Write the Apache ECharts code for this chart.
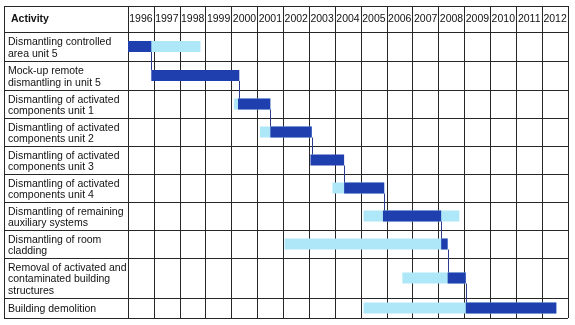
<!DOCTYPE html>
<html>
<head>
<meta charset="utf-8">
<script src="https://cdn.jsdelivr.net/npm/echarts@6/dist/echarts.min.js"></script>
<style>
html,body{margin:0;padding:0;background:#fff;}
#chart{width:575px;height:325px;}
</style>
</head>
<body>
<div id="chart"></div>
<script>
// ---- data ----
const headerTitle = 'Activity';
const activities = [
  'Dismantling controlled\narea unit 5',
  'Mock-up remote\ndismantling in unit 5',
  'Dismantling of activated\ncomponents unit 1',
  'Dismantling of activated\ncomponents unit 2',
  'Dismantling of activated\ncomponents unit 3',
  'Dismantling of activated\ncomponents unit 4',
  'Dismantling of remaining\nauxiliary systems',
  'Dismantling of room\ncladding',
  'Removal of activated and\ncontaminated building\nstructures',
  'Building demolition'
];
const years = ['1996','1997','1998','1999','2000','2001','2002','2003','2004','2005','2006','2007','2008','2009','2010','2011','2012'];
// planned (light) ranges, null = none
const planStart = [1996.0, null, 2000.1, 2001.1, null, 2003.9, 2005.1, 2002.05, 2006.6, 2005.1];
const planEnd   = [1998.8, null, 2001.5, 2003.1, null, 2005.9, 2008.8, 2008.35, 2009.05, 2012.55];
// actual (dark) ranges
const actualStart = [1996.0, 1996.9, 2000.25, 2001.5, 2003.05, 2004.35, 2005.85, 2008.1, 2008.35, 2009.05];
const actualEnd   = [1996.9, 2000.3, 2001.5, 2003.1, 2004.35, 2005.9, 2008.1, 2008.35, 2009.05, 2012.55];

// ---- layout ----
const LABEL_COL = 124;   // width of activity column (px)
const HEADER_H = 26;     // header row height (px)
const rowHeights = [29, 29, 28, 28, 28, 28, 28, 28, 40, 20];
const BAR_H = 11;
const LINE = '#262626';
const FONT = '"Liberation Sans", Arial, sans-serif';
const cum = [0];
rowHeights.forEach(h => cum.push(cum[cum.length - 1] + h));
const totalH = cum[cum.length - 1];
const yearMin = +years[0], yearMax = +years[years.length - 1] + 1;

const chart = echarts.init(document.getElementById('chart'), null, {renderer: 'canvas'});

function rowCenter(i) { return (cum[i] + cum[i + 1]) / 2; }

function renderTable(params, api) {
  const i = api.value(0);
  const cs = params.coordSys;
  const left = cs.x - LABEL_COL, right = cs.x + cs.width;
  const pTop = api.coord([yearMin, cum[i]]);
  const pBot = api.coord([yearMin, cum[i + 1]]);
  const children = [];
  const ls = {stroke: LINE, lineWidth: 1};
  children.push({type: 'line', shape: {x1: left, y1: Math.round(pBot[1]) + 0.5, x2: right, y2: Math.round(pBot[1]) + 0.5}, style: ls});
  children.push({type: 'text', x: left + 4, y: (pTop[1] + pBot[1]) / 2 + 1.5,
    style: {text: activities[i], fill: '#111', font: '10.5px ' + FONT, lineHeight: 11.5, verticalAlign: 'middle', align: 'left'}});
  if (i === 0) {
    const top = Math.round(cs.y - HEADER_H) + 0.5;
    const bot = Math.round(cs.y + totalH) + 0.5;
    children.push({type: 'line', shape: {x1: left, y1: top, x2: right, y2: top}, style: ls});
    children.push({type: 'line', shape: {x1: left, y1: Math.round(cs.y) + 0.5, x2: cs.x, y2: Math.round(cs.y) + 0.5}, style: ls});
    children.push({type: 'line', shape: {x1: left + 0.5, y1: top, x2: left + 0.5, y2: bot}, style: ls});
    children.push({type: 'line', shape: {x1: cs.x + 0.5, y1: top, x2: cs.x + 0.5, y2: cs.y}, style: ls});
    children.push({type: 'text', x: left + 7, y: cs.y - HEADER_H / 2,
      style: {text: headerTitle, fill: '#111', font: 'bold 10.5px ' + FONT, verticalAlign: 'middle', align: 'left'}});
  }
  return {type: 'group', children};
}

function makeBarRender(color) {
  return function (params, api) {
    const s = api.value(0), e = api.value(1), i = api.value(2);
    const c = rowCenter(i);
    const p0 = api.coord([s, c]);
    const p1 = api.coord([e, c]);
    return {type: 'rect', shape: {x: p0[0], y: p0[1] - BAR_H / 2, width: p1[0] - p0[0], height: BAR_H}, style: {fill: color}};
  };
}

function renderConnector(params, api) {
  const x = api.value(0), i = api.value(1);
  const a = api.coord([x, rowCenter(i)]);
  const b = api.coord([x, rowCenter(i + 1)]);
  const px = Math.round(a[0]) + 0.5;
  return {type: 'line', shape: {x1: px, y1: a[1] + BAR_H / 2, x2: px, y2: b[1] - BAR_H / 2},
    style: {stroke: '#2c3b8c', lineWidth: 1}};
}

const planData = [], actualData = [], connData = [];
activities.forEach((a, i) => {
  if (planStart[i] != null) planData.push([planStart[i], planEnd[i], i]);
  actualData.push([actualStart[i], actualEnd[i], i]);
  if (i < activities.length - 1) connData.push([actualEnd[i], i]);
});

chart.setOption({
  animation: false,
  backgroundColor: '#fff',
  grid: {left: 128, right: 7, top: 32, bottom: 7, containLabel: false},
  xAxis: [
    {type: 'value', min: yearMin, max: yearMax, interval: 1,
      axisLabel: {show: false}, axisLine: {show: false}, axisTick: {show: false},
      splitLine: {show: true, lineStyle: {color: LINE, width: 1}}},
    {type: 'category', data: years, position: 'top', boundaryGap: true,
      axisLine: {show: true, lineStyle: {color: LINE, width: 1}},
      axisTick: {show: true, length: HEADER_H, inside: false, interval: 0, lineStyle: {color: LINE, width: 1}},
      axisLabel: {interval: 0, margin: 13, verticalAlign: 'middle', color: '#111', fontSize: 10.5, fontFamily: FONT},
      splitLine: {show: false}}
  ],
  yAxis: {type: 'value', min: 0, max: totalH, inverse: true, show: false, splitLine: {show: false}},
  series: [
    {type: 'custom', name: 'table', clip: false, silent: true, xAxisIndex: 0, yAxisIndex: 0,
      data: activities.map((a, i) => [i]), encode: {x: -1, y: -1}, renderItem: renderTable, z: 1},
    {type: 'custom', name: 'plan', clip: false, xAxisIndex: 0, yAxisIndex: 0,
      data: planData, encode: {x: [0, 1], y: 2}, renderItem: makeBarRender('#aee8f8'), z: 2},
    {type: 'custom', name: 'actual', clip: false, xAxisIndex: 0, yAxisIndex: 0,
      data: actualData, encode: {x: [0, 1], y: 2}, renderItem: makeBarRender('#1f3fae'), z: 3},
    {type: 'custom', name: 'connector', clip: false, xAxisIndex: 0, yAxisIndex: 0,
      data: connData, encode: {x: 0, y: 1}, renderItem: renderConnector, z: 4}
  ]
});
</script>
</body>
</html>
